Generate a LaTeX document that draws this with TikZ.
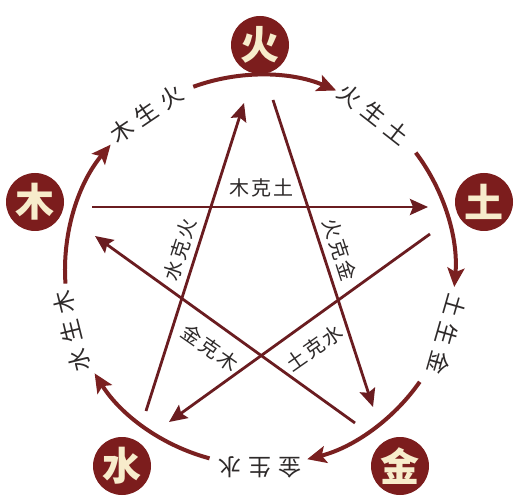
\documentclass[tikz,border=0pt]{standalone}
\usepackage{fontspec}
\newfontfamily\cjk{Noto Sans CJK SC}
\usetikzlibrary{arrows.meta}
\definecolor{elred}{HTML}{7C1D1D}
\definecolor{arcred}{HTML}{7A2020}
\definecolor{starred}{HTML}{6A1C20}
\definecolor{cream}{HTML}{F7ECCB}
\definecolor{txt}{HTML}{2E2A2A}
\newcommand\og{\hspace{7pt}}
\newcommand\ig{\hspace{2pt}}
\begin{document}
\begin{tikzpicture}[x=1pt,y=1pt,
 element/.style={circle, fill=elred, minimum size=58pt, inner sep=0pt, text=cream, font=\cjk\bfseries\fontsize{39}{39}\selectfont},
 cyclearc/.style={draw=arcred, line width=4pt, -{Stealth[length=19pt,width=17pt,inset=4pt]}},
 ke/.style={draw=starred, line width=2.8pt, -{Stealth[length=18pt,width=16pt,inset=3pt]}},
 outerlabel/.style={text=txt, font=\cjk\fontsize{23}{23}\selectfont, inner sep=0pt},
 innerlabel/.style={text=txt, font=\cjk\fontsize{20}{20}\selectfont, inner sep=0pt}]
\useasboundingbox (0,0) rectangle (521,500);
\fill[white] (0,0) rectangle (521,500);
\coordinate (C) at (260,230);

% elements
\node[element] (huo) at (260,455) {火};
\node[element] (mu)  at (35,298)  {木};
\node[element] (tu)  at (484,298) {土};
\node[element] (shui) at (122,34) {水};
\node[element] (jin) at (400,34)  {金};

% generating cycle arcs
\draw[cyclearc] ([shift={(C)}]110:195) arc[start angle=110, end angle=67, radius=195];
\draw[cyclearc] ([shift={(C)}]37:195) arc[start angle=37, end angle=-5, radius=195];
\draw[cyclearc] ([shift={(C)}]-35:195) arc[start angle=-35, end angle=-76, radius=195];
\draw[cyclearc] ([shift={(C)}]-105:195) arc[start angle=-105, end angle=-148, radius=195];
\draw[cyclearc] ([shift={(C)}]184:195) arc[start angle=184, end angle=140, radius=195];

% outer labels
\node[outerlabel, rotate=34]   (msh) at ([shift={(C)}]126:193) {木\og 生\og 火};
\node[outerlabel, rotate=-38]  (hst) at ([shift={(C)}]54:193)  {火\og 生\og 土};
\node[outerlabel, rotate=-106] (tsj) at ([shift={(C)}]-19:198) {土\og 生\og 金};
\node[outerlabel, rotate=180]  (jss) at ([shift={(C)}]-90:197) {金\og 生\og 水};
\node[outerlabel, rotate=104]  (ssm) at ([shift={(C)}]198:198) {水\og 生\og 木};

% controlling star
\coordinate (mk0) at (92,293);  \coordinate (mk1) at (428,293);
\coordinate (sk0) at (146,89);  \coordinate (sk1) at (244,397);
\coordinate (hk0) at (273,400); \coordinate (hk1) at (373,93);
\coordinate (tk0) at (430,266); \coordinate (tk1) at (169,78);
\coordinate (jk0) at (355,77);  \coordinate (jk1) at (95,264);
\draw[ke] (mk0) -- (mk1);
\draw[ke] (sk0) -- (sk1);
\draw[ke] (hk0) -- (hk1);
\draw[ke] (tk0) -- (tk1);
\draw[ke] (jk0) -- (jk1);

% inner labels
\node[innerlabel] (mkt) at (261,312) {木\ig 克\ig 土};
\node[innerlabel, rotate=72]  (skh) at (180,250) {水\ig 克\ig 火};
\node[innerlabel, rotate=-72] (hkj) at (340,250) {火\ig 克\ig 金};
\node[innerlabel, rotate=-35] (jkm) at (210,152) {金\ig 克\ig 木};
\node[innerlabel, rotate=35]  (tks) at (314,152) {土\ig 克\ig 水};
\end{tikzpicture}
\end{document}
